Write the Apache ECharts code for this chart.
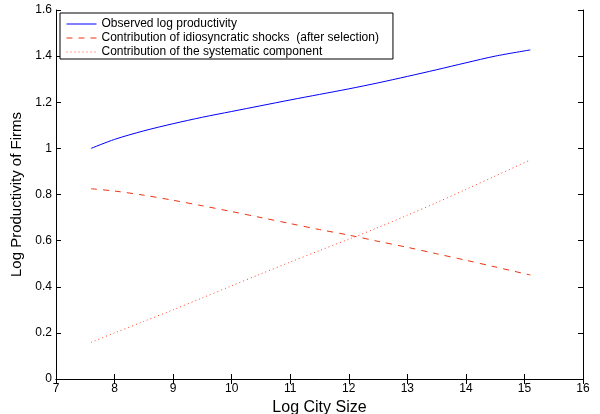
<!DOCTYPE html>
<html>
<head>
<meta charset="utf-8">
<script src="https://cdn.jsdelivr.net/npm/echarts@6/dist/echarts.min.js"></script>
<style>html,body{margin:0;padding:0;background:#fff;}#c{width:600px;height:414px;}</style>
</head>
<body>
<div id="c"></div>
<script>
const xValues = [7.6, 8, 8.5, 9, 9.5, 10, 10.5, 11, 11.5, 12, 12.5, 13, 13.5, 14, 14.5, 15.1];
const observed = [1.0, 1.039, 1.076, 1.107, 1.135, 1.16, 1.185, 1.21, 1.234, 1.258, 1.284, 1.312, 1.341, 1.371, 1.40, 1.427];
const idiosyncratic = [0.825, 0.815, 0.797, 0.775, 0.751, 0.726, 0.700, 0.674, 0.648, 0.624, 0.597, 0.571, 0.543, 0.515, 0.486, 0.451];
const systematic = [0.159, 0.20, 0.25, 0.30, 0.352, 0.404, 0.456, 0.507, 0.557, 0.606, 0.657, 0.71, 0.765, 0.822, 0.88, 0.95];
const seriesNames = ['Observed log productivity', 'Contribution of idiosyncratic shocks  (after selection)', 'Contribution of the systematic component'];
const xAxisName = 'Log City Size';
const yAxisName = 'Log Productivity of Firms';

const pair = (ys) => xValues.map((x, i) => [x, ys[i]]);
const font = 'Liberation Sans, Arial, sans-serif';
const axisCommon = {
  axisLine: {show: true, lineStyle: {color: '#000', width: 1}},
  axisTick: {show: true, inside: true, length: 5, lineStyle: {color: '#000'}},
  splitLine: {show: false}
};
const chart = echarts.init(document.getElementById('c'));
chart.setOption({
  animation: false,
  backgroundColor: '#fff',
  textStyle: {fontFamily: font},
  grid: {left: 56, right: 17, top: 10, bottom: 35, containLabel: false, outerBoundsMode: 'none'},
  legend: {
    orient: 'vertical', left: 60, top: 13,
    backgroundColor: '#fff', borderColor: '#000', borderWidth: 1,
    padding: [4, 14, 0, 6], itemGap: 0, itemWidth: 30, itemHeight: 14,
    itemStyle: {opacity: 0},
    lineStyle: {width: 1},
    textStyle: {fontFamily: font, fontSize: 12, lineHeight: 14, color: '#000'},
    data: seriesNames
  },
  xAxis: [
    Object.assign({type: 'value', min: 7, max: 16, interval: 1, position: 'bottom',
      name: xAxisName, nameLocation: 'middle', nameGap: 15,
      nameTextStyle: {fontFamily: font, fontSize: 16, color: '#000'},
      axisLabel: {fontFamily: font, fontSize: 12, color: '#000', margin: 4}}, axisCommon),
    Object.assign({type: 'value', min: 7, max: 16, interval: 1, position: 'top',
      axisLabel: {show: false}}, axisCommon)
  ],
  yAxis: [
    Object.assign({type: 'value', min: 0, max: 1.6, interval: 0.2, position: 'left',
      name: yAxisName, nameLocation: 'middle', nameGap: 29,
      nameTextStyle: {fontFamily: font, fontSize: 15, color: '#000'},
      axisLabel: {fontFamily: font, fontSize: 12, color: '#000', margin: 4}}, axisCommon),
    Object.assign({type: 'value', min: 0, max: 1.6, interval: 0.2, position: 'right',
      axisLabel: {show: false}}, axisCommon)
  ],
  series: [
    {name: seriesNames[0], type: 'line', smooth: 0.3, symbol: 'none', data: pair(observed),
      itemStyle: {color: '#0000ff'}, lineStyle: {color: '#0000ff', width: 1}},
    {name: seriesNames[1], type: 'line', smooth: 0.3, symbol: 'none', data: pair(idiosyncratic),
      itemStyle: {color: '#ee3311'}, lineStyle: {color: '#ee3311', width: 1, type: [6, 6]}},
    {name: seriesNames[2], type: 'line', smooth: 0.3, symbol: 'none', data: pair(systematic),
      itemStyle: {color: '#ff4422'}, lineStyle: {color: '#ff4422', width: 1, type: [1, 3]}}
  ]
});
</script>
</body>
</html>
